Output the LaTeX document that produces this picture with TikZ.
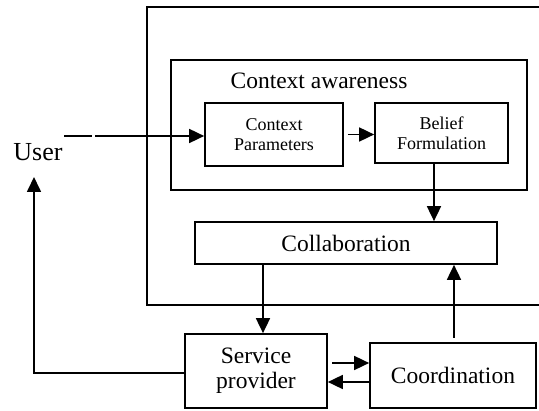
\documentclass[tikz,border=0pt]{standalone}
\usepackage{fontspec}
\setmainfont{Liberation Serif}
\usetikzlibrary{arrows.meta}
\begin{document}
\begin{tikzpicture}[x=1pt,y=-1pt, line width=1.7pt,
  box/.style={draw, inner sep=0pt, align=center},
  arr/.style={-{Triangle[length=15pt,width=14pt]}},
  big/.style={font=\fontsize{23.5}{25}\selectfont},
  small/.style={font=\fontsize{18}{20}\selectfont}]
\useasboundingbox (0,0) rectangle (539,411);
\node[box, minimum width=420pt, minimum height=298pt] (outer) at (357,156) {};
\node[box, minimum width=356pt, minimum height=130pt] (ca) at (349,125) {};
\node[big] (catitle) at (319,81) {Context awareness};
\node[box, small, minimum width=138pt, minimum height=63pt] (cp) at (274,134.5) {Context\\Parameters};
\node[box, small, minimum width=133pt, minimum height=60pt] (bf) at (441.5,133) {Belief\\Formulation};
\node[box, big, minimum width=302pt, minimum height=42pt] (collab) at (346,243) {Collaboration};
\node[box, big, minimum width=142pt, minimum height=74pt] (sp) at (256,371) {Service\\provider};
\node[box, big, minimum width=166pt, minimum height=65pt] (coord) at (453,375.5) {Coordination};
\node[font=\fontsize{26}{28}\selectfont] (user) at (38,152) {User};
% connectors
\coordinate (uin) at (64,136);
\draw[arr, dash pattern=on 28pt off 3pt on 300pt] (uin) -- (uin -| cp.west);
\coordinate (c1) at ([xshift=4pt]cp.east);
\draw[arr] (c1) -- (c1 -| bf.west);
\coordinate (c2) at (434,0);
\draw[arr] (bf.south -| c2) -- (collab.north -| c2);
\coordinate (c3) at (263,0);
\draw[arr] (collab.south -| c3) -- (sp.north -| c3);
\coordinate (c4) at (454,338);
\draw[arr] (c4) -- (c4 |- collab.south);
\coordinate (c5) at (332,363);
\draw[arr] (c5) -- (c5 -| coord.west);
\coordinate (c6) at (0,382);
\draw[arr] (coord.west |- c6) -- (sp.east |- c6);
\coordinate (c7) at (34,373);
\coordinate (c8) at (34,177);
\draw[arr] (sp.west |- c7) -- (c7) -- (c8);
\end{tikzpicture}
\end{document}
